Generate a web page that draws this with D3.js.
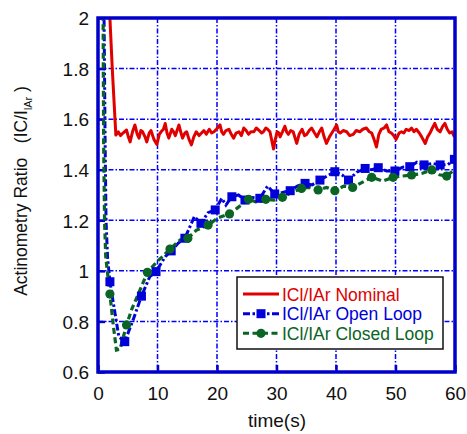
<!DOCTYPE html>
<html>
<head>
<meta charset="utf-8">
<script src="https://cdn.jsdelivr.net/npm/d3@7"></script>
<style>
  body { margin: 0; background: #fff; }
  svg { display: block; font-family: "Liberation Sans", Arial, sans-serif; }
</style>
</head>
<body>
<svg width="467" height="434"></svg>
<script>
// **** data ****

var xTicks = [0, 10, 20, 30, 40, 50, 60];
var yTicks = [0.6, 0.8, 1, 1.2, 1.4, 1.6, 1.8, 2];

var nominalTime = [1.8, 2.0, 2.4, 3.0, 3.4, 3.8, 4.2, 4.8, 5.1, 5.4, 5.8, 6.2, 6.6, 6.9, 7.2, 7.5, 7.9, 8.2, 8.6, 8.9, 9.4, 9.9, 10.3, 10.6, 11.0, 11.3, 11.6, 11.9, 12.4, 12.7, 13.0, 13.6, 13.9, 14.2, 14.6, 14.9, 15.3, 15.7, 16.1, 16.5, 17.0, 17.4, 17.8, 18.2, 18.7, 19.1, 19.5, 19.9, 20.5, 20.8, 21.1, 21.5, 22.0, 22.4, 22.8, 23.2, 23.7, 24.1, 24.5, 24.9, 25.3, 25.7, 26.2, 26.6, 27.1, 27.5, 27.8, 28.2, 28.5, 28.9, 29.5, 29.8, 30.1, 30.4, 30.6, 31.0, 31.4, 31.7, 32.0, 32.4, 32.8, 33.4, 33.8, 34.3, 34.7, 35.1, 35.5, 35.9, 36.4, 36.8, 37.2, 37.6, 38.0, 38.4, 38.9, 39.3, 39.7, 40.1, 40.4, 40.7, 41.2, 41.8, 42.3, 42.9, 43.4, 44.0, 44.5, 45.1, 45.6, 46.0, 46.4, 46.8, 47.2, 47.6, 48.1, 48.5, 48.9, 49.3, 49.7, 50.1, 50.6, 51.0, 51.4, 51.8, 52.3, 52.7, 53.1, 53.5, 54.0, 54.4, 55.0, 55.4, 55.8, 56.2, 56.6, 57.0, 57.5, 57.9, 58.3, 58.7, 59.1, 59.5, 59.9];
var nominalValue = [2.3, 2.0, 1.8, 1.537, 1.55, 1.535, 1.545, 1.557, 1.53, 1.51, 1.55, 1.577, 1.54, 1.525, 1.555, 1.55, 1.53, 1.51, 1.545, 1.555, 1.52, 1.50, 1.54, 1.55, 1.56, 1.583, 1.545, 1.525, 1.56, 1.55, 1.535, 1.577, 1.55, 1.525, 1.545, 1.55, 1.52, 1.498, 1.53, 1.55, 1.535, 1.545, 1.555, 1.54, 1.56, 1.545, 1.55, 1.56, 1.577, 1.55, 1.54, 1.555, 1.56, 1.54, 1.525, 1.545, 1.55, 1.535, 1.565, 1.555, 1.54, 1.55, 1.55, 1.565, 1.555, 1.545, 1.55, 1.565, 1.56, 1.55, 1.482, 1.52, 1.55, 1.545, 1.53, 1.55, 1.572, 1.55, 1.54, 1.555, 1.55, 1.504, 1.54, 1.56, 1.535, 1.54, 1.555, 1.565, 1.545, 1.53, 1.55, 1.565, 1.53, 1.504, 1.53, 1.545, 1.56, 1.577, 1.55, 1.545, 1.555, 1.55, 1.535, 1.54, 1.555, 1.55, 1.56, 1.565, 1.55, 1.545, 1.52, 1.49, 1.54, 1.56, 1.565, 1.577, 1.55, 1.545, 1.535, 1.52, 1.545, 1.55, 1.545, 1.56, 1.555, 1.565, 1.55, 1.56, 1.545, 1.53, 1.504, 1.53, 1.545, 1.565, 1.583, 1.56, 1.55, 1.57, 1.583, 1.56, 1.545, 1.55, 1.53];

var openTime = [1.0, 1.2, 1.35, 1.6, 2.0, 2.86, 3.5, 4.5, 5.9, 7.3, 8.7, 9.75, 11.3, 12.3, 13.5, 14.6, 16.2, 17.3, 18.5, 19.7, 20.8, 21.5, 22.5, 23.6, 24.7, 26.0, 27.2, 28.5, 29.7, 31.0, 32.3, 33.5, 34.8, 36.0, 37.3, 38.5, 39.8, 41.0, 42.1, 43.5, 44.9, 46.0, 47.1, 48.5, 49.9, 51.2, 52.4, 53.6, 54.8, 56.2, 57.5, 58.8, 59.9];
var openValue = [2.05, 1.5, 1.2, 1.056, 0.957, 0.832, 0.74, 0.72, 0.806, 0.90, 0.977, 0.997, 1.056, 1.079, 1.11, 1.129, 1.215, 1.188, 1.23, 1.241, 1.287, 1.26, 1.293, 1.30, 1.28, 1.29, 1.287, 1.335, 1.304, 1.31, 1.317, 1.335, 1.346, 1.34, 1.359, 1.375, 1.392, 1.38, 1.359, 1.39, 1.405, 1.40, 1.408, 1.395, 1.395, 1.41, 1.412, 1.43, 1.419, 1.425, 1.419, 1.42, 1.441];
var openMarkTime = [2.0, 4.5, 7.3, 9.75, 12.3, 14.6, 17.3, 19.7, 22.5, 24.7, 27.2, 29.7, 32.3, 34.8, 37.3, 39.8, 42.1, 44.9, 47.1, 49.9, 52.4, 54.8, 57.5, 59.9];
var openMarkValue = [0.957, 0.72, 0.90, 0.997, 1.079, 1.129, 1.188, 1.241, 1.293, 1.28, 1.287, 1.304, 1.317, 1.346, 1.359, 1.392, 1.359, 1.405, 1.408, 1.395, 1.412, 1.419, 1.419, 1.441];

var closedTime = [0.85, 0.95, 1.1, 1.3, 2.0, 2.6, 3.1, 3.7, 4.8, 5.7, 6.8, 8.3, 9.9, 11.0, 12.1, 13.8, 15.1, 16.5, 18.5, 20.2, 22.1, 23.5, 25.3, 26.8, 28.2, 29.6, 31.0, 32.5, 34.2, 35.6, 37.0, 38.4, 39.8, 41.3, 42.8, 44.4, 46.0, 47.8, 49.6, 51.1, 52.7, 54.4, 56.1, 57.4, 58.6, 59.9];
var closedValue = [2.05, 1.5, 1.2, 1.056, 0.908, 0.779, 0.687, 0.69, 0.786, 0.85, 0.91, 0.994, 1.036, 1.06, 1.086, 1.122, 1.129, 1.16, 1.181, 1.21, 1.225, 1.25, 1.283, 1.27, 1.283, 1.28, 1.291, 1.31, 1.326, 1.33, 1.320, 1.33, 1.317, 1.335, 1.330, 1.35, 1.370, 1.355, 1.370, 1.375, 1.379, 1.385, 1.399, 1.38, 1.375, 1.40];
var closedMarkTime = [2.0, 4.8, 8.3, 12.1, 15.1, 18.5, 22.1, 25.3, 28.2, 31.0, 34.2, 37.0, 39.8, 42.8, 46.0, 49.6, 52.7, 56.1, 58.6];
var closedMarkValue = [0.908, 0.786, 0.994, 1.086, 1.129, 1.181, 1.225, 1.283, 1.283, 1.291, 1.326, 1.320, 1.317, 1.330, 1.370, 1.370, 1.379, 1.399, 1.375];

var legendLabels = ['ICl/IAr Nominal', 'ICl/IAr Open Loop', 'ICl/IAr Closed Loop'];

// **** scales, axes and labels ****

var RED = '#e00000', BLUE = '#0000d8', GREEN = '#0a6424', AXIS = '#0000cc';

var xScale = d3.scaleLinear().domain([0, 60]).range([98, 455]);
var yScale = d3.scaleLinear().domain([0.6, 2]).range([372, 18]);

var svg = d3.select('svg');

svg.append('clipPath').attr('id', 'plotclip')
    .append('rect')
    .attr('x', xScale(0)).attr('y', yScale(2))
    .attr('width', xScale(60) - xScale(0))
    .attr('height', yScale(0.6) - yScale(2));

// grid
var grid = svg.append('g').attr('class', 'grid');
xTicks.slice(1, -1).forEach(function(t) {
    grid.append('line')
        .attr('x1', xScale(t)).attr('x2', xScale(t))
        .attr('y1', yScale(2)).attr('y2', yScale(0.6))
        .attr('stroke', '#0000ff').attr('stroke-width', 1.5)
        .attr('stroke-dasharray', '5,2,1.5,2');
});
yTicks.slice(1, -1).forEach(function(v) {
    grid.append('line')
        .attr('x1', xScale(0)).attr('x2', xScale(60))
        .attr('y1', yScale(v)).attr('y2', yScale(v))
        .attr('stroke', '#0000ff').attr('stroke-width', 1.5)
        .attr('stroke-dasharray', '5,2,1.5,2');
});

// inward ticks
var xAxis = svg.append('g').attr('transform', 'translate(0,' + yScale(0.6) + ')')
    .call(d3.axisBottom(xScale).tickValues(xTicks).tickSize(-7).tickPadding(10)
        .tickFormat(function(d) { return d; }));
var yAxis = svg.append('g').attr('transform', 'translate(' + xScale(0) + ',0)')
    .call(d3.axisLeft(yScale).tickValues(yTicks).tickSize(-7).tickPadding(9)
        .tickFormat(function(d) { return String(d); }));

[xAxis, yAxis].forEach(function(ax) {
    ax.select('.domain').remove();
    ax.selectAll('.tick line').attr('stroke', AXIS).attr('stroke-width', 2.5);
    ax.selectAll('.tick text')
        .attr('fill', '#111')
        .style('font-size', '19px')
        .style('font-family', '"Liberation Sans", Arial, sans-serif');
});
xAxis.selectAll('.tick text').attr('dy', '0.95em');
yAxis.selectAll('.tick text').attr('dy', '0.36em');

// **** series ****

var plot = svg.append('g').attr('clip-path', 'url(#plotclip)');

function makeLine(times) {
    return d3.line()
        .x(function(d, i) { return xScale(times[i]); })
        .y(function(d) { return yScale(d); });
}

plot.append('path')
    .attr('d', makeLine(nominalTime)(nominalValue))
    .attr('fill', 'none').attr('stroke', RED).attr('stroke-width', 3)
    .attr('stroke-linejoin', 'round');

plot.append('path')
    .attr('d', makeLine(openTime)(openValue))
    .attr('fill', 'none').attr('stroke', BLUE).attr('stroke-width', 3)
    .attr('stroke-dasharray', '7,2.5,2.5,2.5');

plot.append('path')
    .attr('d', makeLine(closedTime)(closedValue))
    .attr('fill', 'none').attr('stroke', GREEN).attr('stroke-width', 3.2)
    .attr('stroke-dasharray', '6,3.5');

plot.selectAll('rect.open').data(openMarkValue).enter()
    .append('rect').attr('class', 'open')
    .attr('x', function(d, i) { return xScale(openMarkTime[i]) - 4.5; })
    .attr('y', function(d) { return yScale(d) - 4.5; })
    .attr('width', 9).attr('height', 9)
    .attr('fill', BLUE);

plot.selectAll('circle.closed').data(closedMarkValue).enter()
    .append('circle').attr('class', 'closed')
    .attr('cx', function(d, i) { return xScale(closedMarkTime[i]); })
    .attr('cy', function(d) { return yScale(d); })
    .attr('r', 4.6)
    .attr('fill', GREEN);

// border
svg.append('rect')
    .attr('x', xScale(0)).attr('y', yScale(2))
    .attr('width', xScale(60) - xScale(0))
    .attr('height', yScale(0.6) - yScale(2))
    .attr('fill', 'none').attr('stroke', AXIS).attr('stroke-width', 3.5);

// axis titles
svg.append('text')
    .text('time(s)')
    .attr('x', 277).attr('y', 427)
    .attr('text-anchor', 'middle')
    .style('font-size', '19px').attr('fill', '#111');

var ylab = svg.append('text')
    .attr('transform', 'translate(27,191) rotate(-90)')
    .attr('text-anchor', 'middle')
    .style('font-size', '17.5px').attr('fill', '#111')
    .attr('xml:space', 'preserve');
ylab.append('tspan').text('Actinometry Ratio   (IC/I');
ylab.append('tspan').text('l').style('font-size', '10px').attr('dy', 5);
ylab.append('tspan').text('Ar').style('font-size', '11px');
ylab.append('tspan').text(' )').attr('dy', -5);

// **** legend ****

var legend = svg.append('g');
legend.append('rect')
    .attr('x', 237).attr('y', 277).attr('width', 206).attr('height', 72)
    .attr('fill', '#fff').attr('stroke', '#111').attr('stroke-width', 1.5);

var legendRows = [294, 313.7, 333.3];
var legendColors = [RED, BLUE, GREEN];
var legendDash = [null, '7,2.5,2.5,2.5', '6,3.5'];

legendLabels.forEach(function(label, i) {
    var y = legendRows[i];
    legend.append('line')
        .attr('x1', 243).attr('x2', 279).attr('y1', y).attr('y2', y)
        .attr('stroke', legendColors[i]).attr('stroke-width', 3)
        .attr('stroke-dasharray', legendDash[i]);
    if (i === 1) {
        legend.append('rect').attr('x', 261 - 4.5).attr('y', y - 4.5)
            .attr('width', 9).attr('height', 9).attr('fill', BLUE);
    }
    if (i === 2) {
        legend.append('circle').attr('cx', 261).attr('cy', y).attr('r', 4.6)
            .attr('fill', GREEN);
    }
    legend.append('text')
        .text(label)
        .attr('x', 282).attr('y', y + 6.5)
        .style('font-size', '17.5px')
        .attr('fill', legendColors[i]);
});
</script>
</body>
</html>
